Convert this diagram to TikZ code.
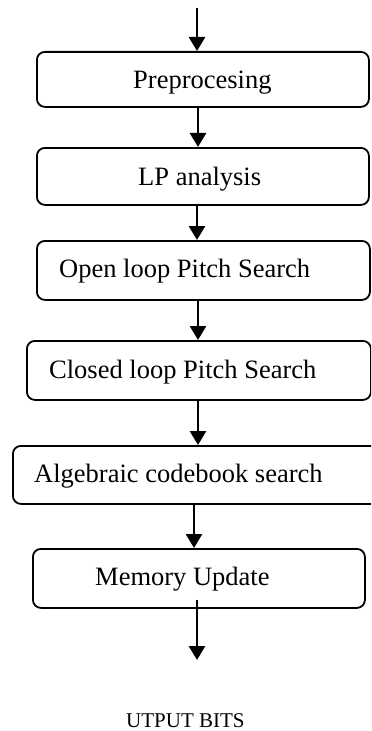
\documentclass[tikz,border=0pt]{standalone}
\usepackage{fontspec}
\setmainfont{Liberation Serif}
\usetikzlibrary{arrows.meta}
\begin{document}
\begin{tikzpicture}[x=1bp,y=-1bp,
  box/.style={draw, line width=1.8bp, rounded corners=8bp, inner sep=0pt, anchor=north west},
  lbl/.style={font=\fontsize{26.5bp}{30bp}\selectfont, inner sep=0pt, anchor=base west},
  flow/.style={line width=2.8bp, -{Triangle[width=16bp,length=14bp]}}]
\useasboundingbox (0,0) rectangle (371,731);
\clip (0,0) rectangle (371,731);
% boxes
\node[box, minimum width=332bp, minimum height=55bp] (b1) at (36,51) {};
\node[box, minimum width=332bp, minimum height=57bp] (b2) at (36,147) {};
\node[box, minimum width=333bp, minimum height=59bp] (b3) at (36,240) {};
\node[box, minimum width=344bp, minimum height=59bp] (b4) at (26,340) {};
\node[box, minimum width=380bp, minimum height=58bp] (b5) at (12,445) {};
\node[box, minimum width=332bp, minimum height=59bp] (b6) at (32,548) {};
% labels
\node[lbl] (t1) at (133,89) {Preprocesing};
\node[lbl] (t2) at (138,185) {LP analysis};
\node[lbl] (t3) at (59,277) {Open loop Pitch Search};
\node[lbl] (t4) at (49,378) {Closed loop Pitch Search};
\node[lbl] (t5) at (34,482) {Algebraic codebook search};
\node[lbl] (t6) at (95,585) {Memory Update};
\node[lbl, font=\fontsize{21bp}{24bp}\selectfont] (t7) at (126,727) {UTPUT BITS};
% connectors
\coordinate (in) at (197,8);
\coordinate (out) at (197,660);
\draw[flow] (in) -- (in |- b1.north);
\draw[flow] (b1.south -| 198,0) -- (b2.north -| 198,0);
\draw[flow] (b2.south -| 197,0) -- (b3.north -| 197,0);
\draw[flow] (b3.south -| 198,0) -- (b4.north -| 198,0);
\draw[flow] (b4.south -| 198,0) -- (b5.north -| 198,0);
\draw[flow] (b5.south -| 194,0) -- (b6.north -| 194,0);
\draw[flow] ([yshift=9bp]b6.south -| out) -- (out);
\end{tikzpicture}
\end{document}
